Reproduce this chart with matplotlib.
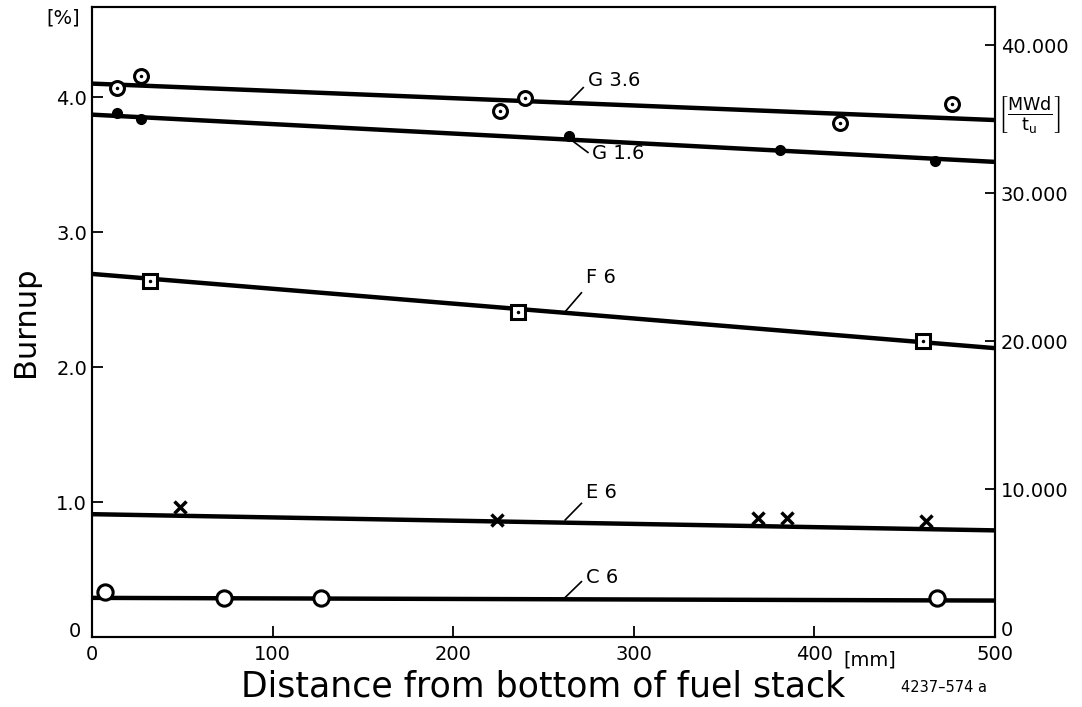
import numpy as np
import matplotlib.pyplot as plt
from matplotlib.ticker import FixedLocator, FuncFormatter

# measured points (distance mm, burnup %)
g36_x = [14, 27, 226, 240, 414, 476]
g36_y = [4.07, 4.16, 3.90, 3.99, 3.81, 3.95]
g16_x = [14, 27, 264, 381, 467]
g16_y = [3.88, 3.84, 3.71, 3.61, 3.53]
f6_x = [32, 236, 460]
f6_y = [2.64, 2.41, 2.19]
e6_x = [49, 224, 369, 385, 462]
e6_y = [0.96, 0.87, 0.88, 0.88, 0.86]
c6_x = [7, 73, 127, 468]
c6_y = [0.33, 0.29, 0.29, 0.29]

# fitted lines, values at both ends of the stack
fit_x = [0, 500]
g36_fit = [4.10, 3.83]
g16_fit = [3.87, 3.52]
f6_fit = [2.69, 2.14]
e6_fit = [0.91, 0.79]
c6_fit = [0.29, 0.27]

mwd_per_pct = 9122.0
right_ticks = [10000, 20000, 30000, 40000]

plt.rcParams['font.family'] = 'DejaVu Sans'

fig = plt.figure(figsize=(10.82, 7.07), dpi=100)
ax = fig.add_axes([0.085, 0.099, 0.8346, 0.891])

lw = 3.2
for fy in [g36_fit, g16_fit, f6_fit, e6_fit, c6_fit]:
    ax.plot(fit_x, fy, color='black', lw=lw, solid_capstyle='butt', zorder=2)

# G 3.6: circle with centre dot
ax.plot(g36_x, g36_y, 'o', ms=10, mfc='white', mec='black', mew=2.2, zorder=3)
ax.plot(g36_x, g36_y, '.', ms=3, color='black', zorder=4)
# G 1.6: filled dots
ax.plot(g16_x, g16_y, 'o', ms=7, color='black', zorder=3)
# F 6: square with centre dot
ax.plot(f6_x, f6_y, 's', ms=10, mfc='white', mec='black', mew=2.2, zorder=3)
ax.plot(f6_x, f6_y, '.', ms=3, color='black', zorder=4)
# E 6: crosses
ax.plot(e6_x, e6_y, 'x', ms=8, color='black', mew=2.5, zorder=3)
# C 6: open circles
ax.plot(c6_x, c6_y, 'o', ms=11, mfc='white', mec='black', mew=2.2, zorder=3)

# curve labels with leader lines: (text, line start, line end, text y)
labels = [('G 3.6', 264.7, 3.97, 272, 4.07, 4.12),
          ('G 1.6', 263.6, 3.70, 274.6, 3.59, 3.585),
          ('F 6', 262, 2.41, 271, 2.55, 2.66),
          ('E 6', 262, 0.867, 271, 0.99, 1.07),
          ('C 6', 261, 0.28, 271, 0.41, 0.44)]
for txt, x0, y0, x1, y1, ty in labels:
    ax.plot([x0, x1], [y0, y1], color='black', lw=1.2, zorder=2)
    ax.text(x1 + 2.5, ty, txt, fontsize=14, ha='left', va='center')

ax.set_xlim(0, 500)
ax.set_ylim(0, 4.667)
ax.xaxis.set_major_locator(FixedLocator([0, 100, 200, 300, 400, 500]))
ax.yaxis.set_major_locator(FixedLocator([1, 2, 3, 4]))
ax.yaxis.set_major_formatter(FuncFormatter(lambda v, p: '%.1f' % v))
ax.tick_params(direction='in', length=8, width=1.3, labelsize=14)
ax.tick_params(axis='x', pad=6)
for s in ax.spines.values():
    s.set_linewidth(1.5)

ax.text(-6, 0.04, '0', fontsize=14, ha='right', va='center')
ax.text(503, 0.05, '0', fontsize=14, ha='left', va='center')

ax2 = ax.twinx()
ax2.set_ylim(0, 4.667 * mwd_per_pct)
ax2.yaxis.set_major_locator(FixedLocator(right_ticks))
ax2.yaxis.set_major_formatter(FuncFormatter(
    lambda v, p: '{:,.0f}'.format(v).replace(',', '.')))
ax2.tick_params(direction='in', length=7, width=1.3, labelsize=14, pad=4)
for s in ax2.spines.values():
    s.set_linewidth(1.5)

ax.set_ylabel('Burnup', fontsize=22, labelpad=12)
ax.set_xlabel('Distance from bottom of fuel stack', fontsize=25, labelpad=4)

fig.text(0.058, 0.975, '[%]', fontsize=14, ha='center', va='center')
fig.text(0.804, 0.066, '[mm]', fontsize=14, ha='center', va='center')
fig.text(0.872, 0.027, '4237\u2013574 a', fontsize=10.5, ha='center', va='center')
fig.text(0.952, 0.837, r'$\left[\frac{\mathsf{MWd}}{\mathsf{t_u}}\right]$',
         fontsize=18, ha='center', va='center')

fig.savefig('out.png', dpi=100)
